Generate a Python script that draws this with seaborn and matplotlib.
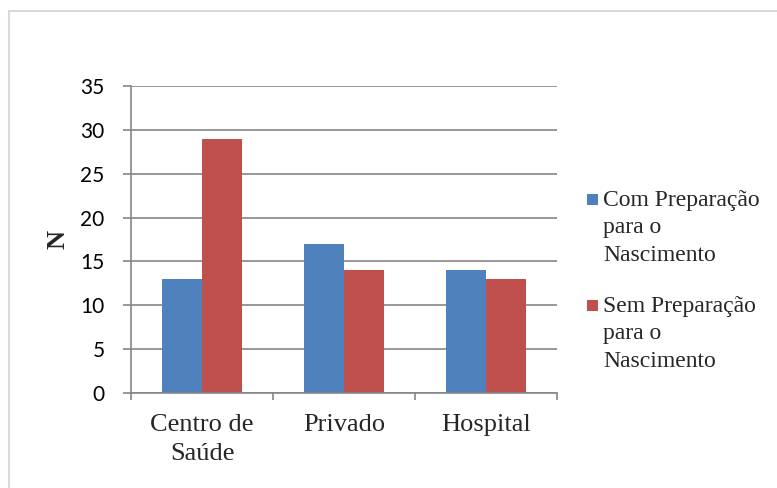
import matplotlib
matplotlib.use("Agg")
import matplotlib.pyplot as plt
from matplotlib.patches import Rectangle
import seaborn as sns
import pandas as pd

categories = ["Centro de\nSaúde", "Privado", "Hospital"]
series = ["Com Preparação\npara o\nNascimento", "Sem Preparação\npara o\nNascimento"]
com_preparacao = [13, 17, 14]
sem_preparacao = [29, 14, 13]
yticks = [0, 5, 10, 15, 20, 25, 30, 35]
colors = ["#4F81BD", "#C0504D"]

df = pd.DataFrame({
    "local": categories * 2,
    "grupo": [series[0]] * 3 + [series[1]] * 3,
    "N": com_preparacao + sem_preparacao,
})

sns.set_style("white")
W, H = 777, 488
fig = plt.figure(figsize=(W / 100, H / 100), dpi=100)
ax = fig.add_axes([131 / W, 1 - 393 / H, (557 - 131) / W, (393 - 86) / H])

sns.barplot(data=df, x="local", y="N", hue="grupo", order=categories,
            hue_order=series, palette=colors, width=0.57, gap=0,
            saturation=1, ax=ax, legend=False, edgecolor="none")

grid_c = "#868686"
ax.set_xlim(-0.5, 2.5)
ax.set_ylim(0, 35)
ax.set_yticks(yticks)
ax.yaxis.grid(True, color=grid_c, linewidth=1.2)
ax.set_axisbelow(True)
for s in ["top", "right"]:
    ax.spines[s].set_visible(False)
for s in ["left", "bottom"]:
    ax.spines[s].set_color(grid_c)
    ax.spines[s].set_linewidth(1.2)

ax.tick_params(axis="y", which="major", direction="out", length=6, width=1.2,
               color=grid_c, left=True, pad=13)
ax.set_yticklabels([str(v) for v in yticks], fontfamily="Lato", fontsize=15,
                   color="black")

# category labels centred, tick marks at group boundaries
ax.set_xticks([0, 1, 2])
ax.set_xticklabels(categories, fontfamily="Liberation Serif", fontsize=19,
                   linespacing=1.42)
ax.tick_params(axis="x", which="major", length=0, pad=15)
ax.set_xticks([-0.5, 0.5, 1.5, 2.5], minor=True)
ax.tick_params(axis="x", which="minor", direction="out", length=5, width=1.2,
               color=grid_c, bottom=True)

ax.set_xlabel("")
ax.set_ylabel("N", fontfamily="Liberation Serif", fontsize=19,
              fontweight="bold")
ax.yaxis.set_label_coords(-0.145, 0.5)

# legend: colour square beside the first line of each wrapped label
for i, (lab, c) in enumerate(zip(series, colors)):
    top = 190 + i * 106
    fig.patches.append(Rectangle((587 / W, 1 - (top + 15) / H), 11 / W, 11 / H,
                                 transform=fig.transFigure, facecolor=c,
                                 edgecolor="none"))
    fig.text(603 / W, 1 - top / H, lab, ha="left", va="top",
             fontfamily="Liberation Serif", fontsize=17, linespacing=1.4)

# outer chart frame
fig.patches.append(Rectangle((8.5 / W, -0.1), 1.2, 1 - 11.5 / H + 0.1,
                             transform=fig.transFigure, fill=False,
                             edgecolor="#D9D9D9", linewidth=1.5))

fig.savefig("out.png", dpi=100)
